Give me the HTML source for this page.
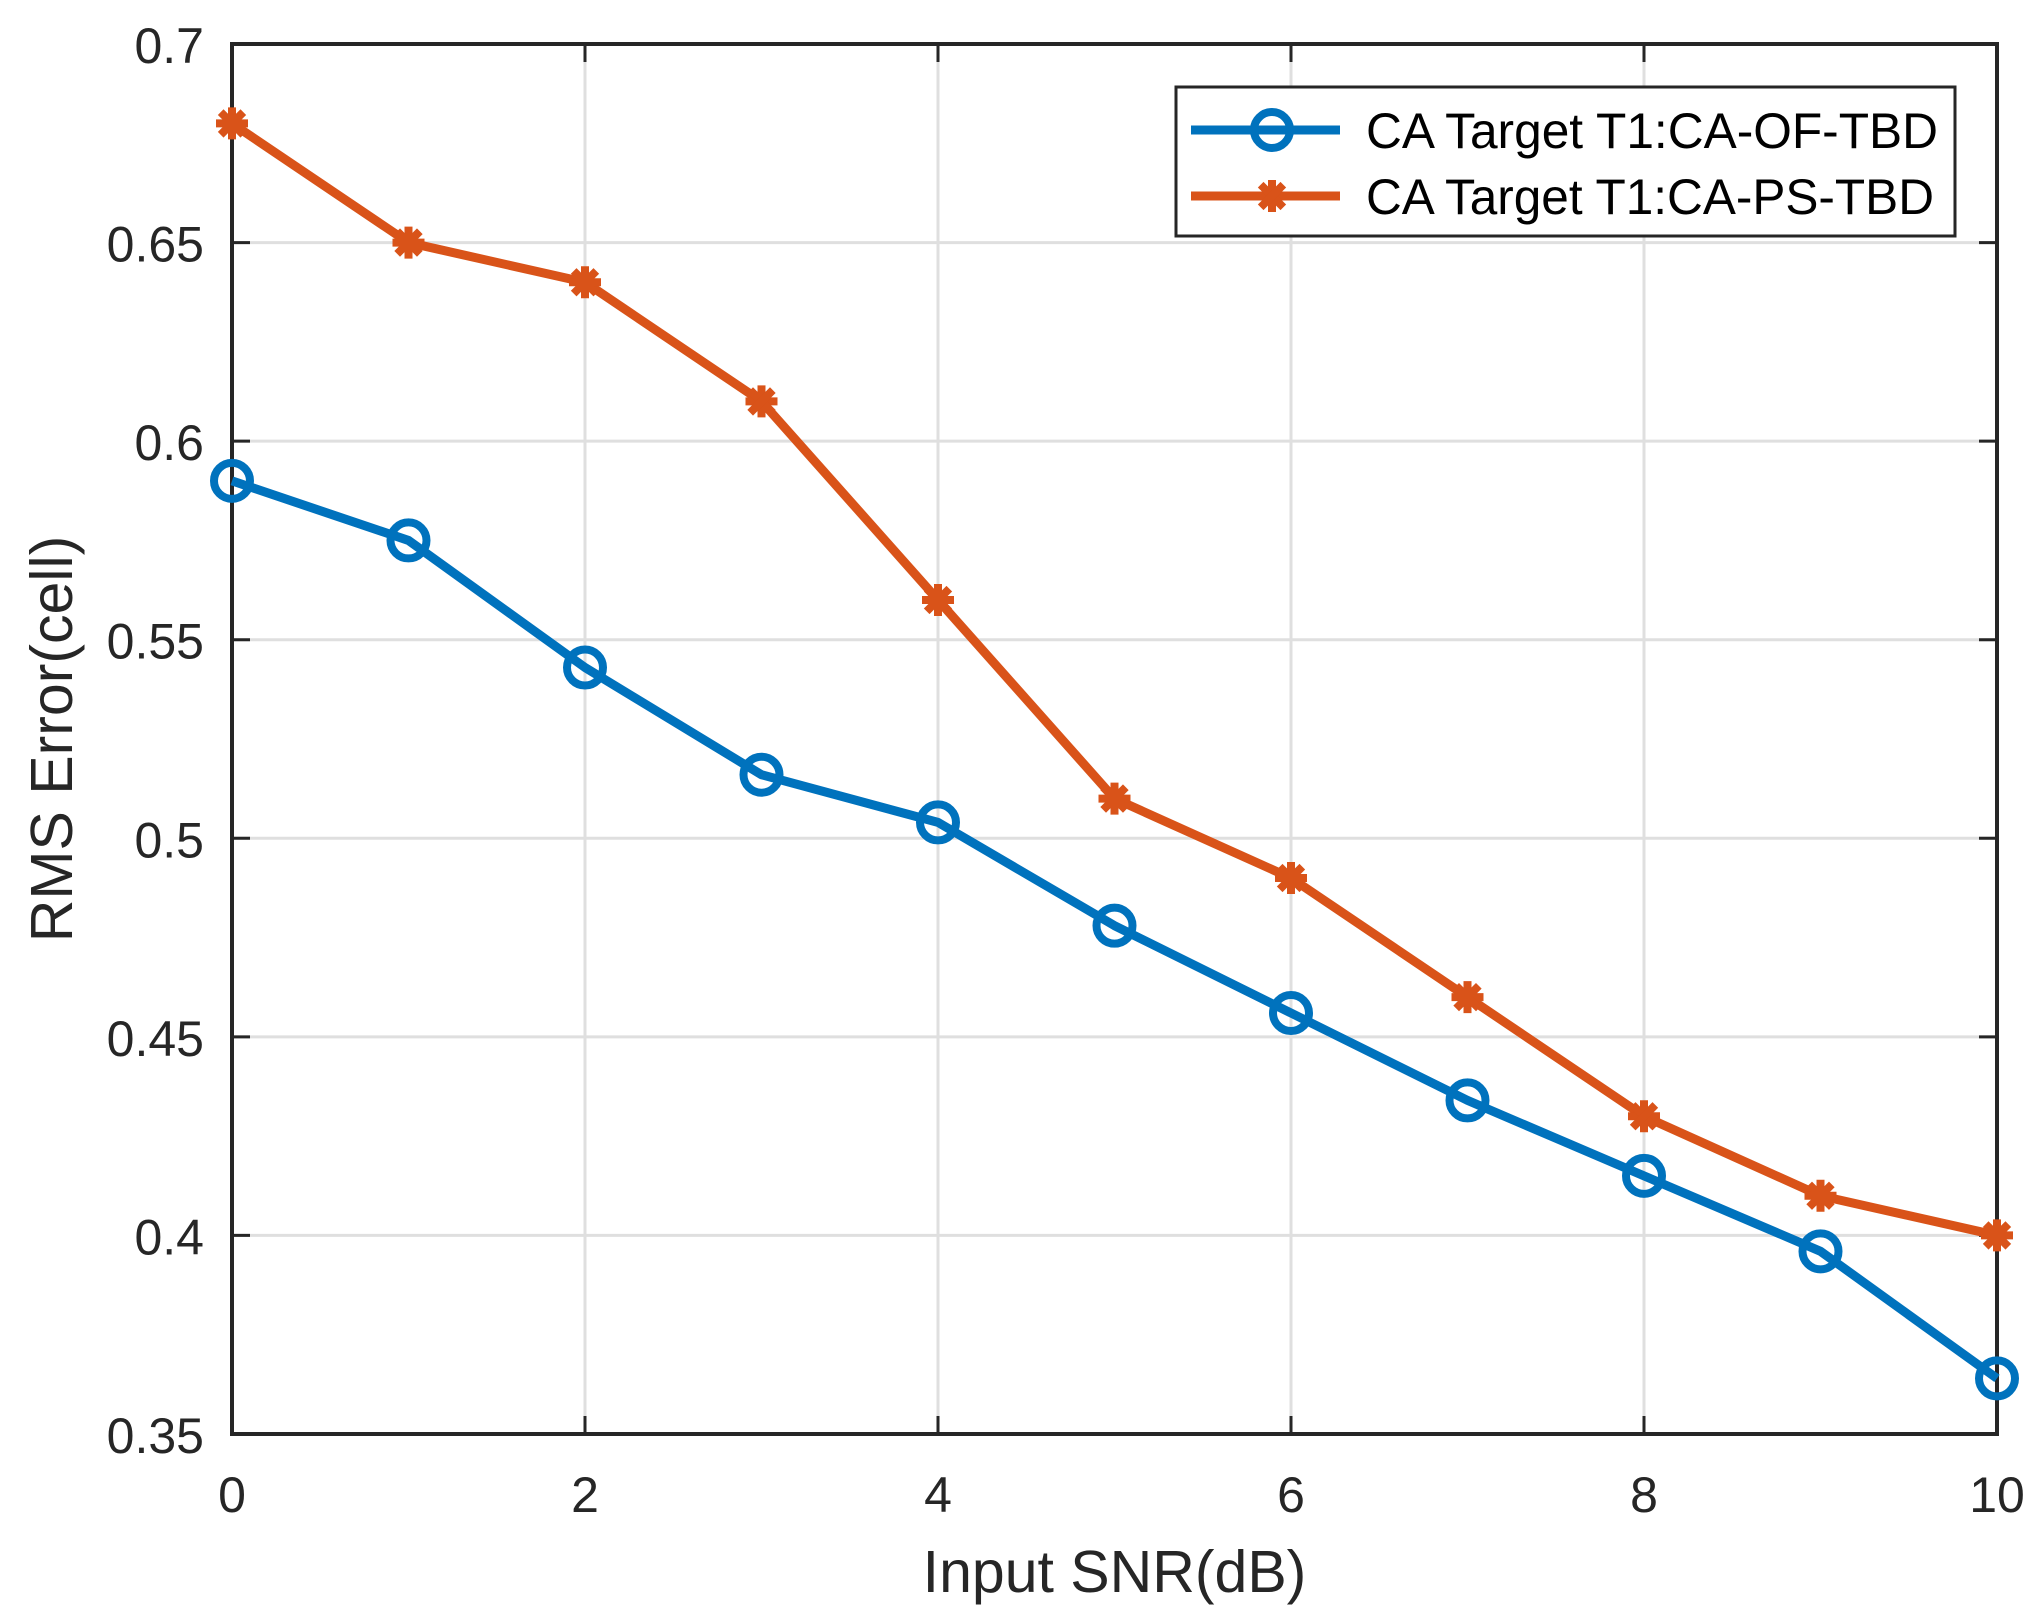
<!DOCTYPE html>
<html><head><meta charset="utf-8"><style>
html,body{margin:0;padding:0;background:#fff;}
svg{display:block;font-family:"Liberation Sans",Arial,sans-serif;}
</style></head><body>
<svg id="s" width="2043" height="1621" viewBox="0 0 2043 1621" xmlns="http://www.w3.org/2000/svg"></svg>
<script>
const L=232,R=1997,T=44,B=1434;
const X=v=>L+(R-L)*v/10, Y=v=>B-(B-T)*(v-0.35)/0.35;
let h='<rect width="2043" height="1621" fill="#fff"/>';
for(let i=1;i<5;i++){h+=`<line x1="${X(i*2)}" y1="${T}" x2="${X(i*2)}" y2="${B}" stroke="#dfdfdf" stroke-width="3"/>`;}
for(let i=1;i<7;i++){const y=Y(0.35+i*0.05);h+=`<line x1="${L}" y1="${y}" x2="${R}" y2="${y}" stroke="#dfdfdf" stroke-width="3"/>`;}
for(let i=0;i<=5;i++){const x=X(i*2);h+=`<line x1="${x}" y1="${B}" x2="${x}" y2="${B-18}" stroke="#262626" stroke-width="3"/><line x1="${x}" y1="${T}" x2="${x}" y2="${T+18}" stroke="#262626" stroke-width="3"/>`;
h+=`<text x="${x}" y="1512" font-size="50" text-anchor="middle" fill="#262626">${i*2}</text>`;}
const yl=['0.35','0.4','0.45','0.5','0.55','0.6','0.65','0.7'];
yl.forEach((t,i)=>{const y=Y(0.35+i*0.05);h+=`<line x1="${L}" y1="${y}" x2="${L+18}" y2="${y}" stroke="#262626" stroke-width="3"/><line x1="${R}" y1="${y}" x2="${R-18}" y2="${y}" stroke="#262626" stroke-width="3"/>`;
h+=`<text x="204" y="${y+19}" font-size="50" text-anchor="end" fill="#262626">${t}</text>`;});
h+=`<rect x="${L}" y="${T}" width="${R-L}" height="${B-T}" fill="none" stroke="#262626" stroke-width="4"/>`;
const b=[0.59,0.575,0.543,0.516,0.504,0.478,0.456,0.434,0.415,0.396,0.364];
const o=[0.68,0.65,0.64,0.61,0.56,0.51,0.49,0.46,0.43,0.41,0.40];
const star=(x,y)=>{let s='';for(let a=0;a<4;a++){const r=a*Math.PI/4,dx=16*Math.cos(r),dy=16*Math.sin(r);s+=`<line x1="${x-dx}" y1="${y-dy}" x2="${x+dx}" y2="${y+dy}" stroke="#d95319" stroke-width="8"/>`;}return s;};
h+=`<polyline points="${o.map((v,i)=>X(i)+','+Y(v)).join(' ')}" fill="none" stroke="#d95319" stroke-width="9" stroke-linejoin="round"/>`;
o.forEach((v,i)=>h+=star(X(i),Y(v)));
h+=`<polyline points="${b.map((v,i)=>X(i)+','+Y(v)).join(' ')}" fill="none" stroke="#0072bd" stroke-width="9" stroke-linejoin="round"/>`;
b.forEach((v,i)=>h+=`<circle cx="${X(i)}" cy="${Y(v)}" r="18" fill="none" stroke="#0072bd" stroke-width="8"/>`);
h+=`<rect x="1176" y="87" width="779" height="149" fill="#fff" stroke="#262626" stroke-width="3"/>`;
h+=`<line x1="1191" y1="130" x2="1340" y2="130" stroke="#0072bd" stroke-width="9"/><circle cx="1272" cy="130" r="18" fill="none" stroke="#0072bd" stroke-width="8"/>`;
h+=`<line x1="1191" y1="196" x2="1340" y2="196" stroke="#d95319" stroke-width="9"/>`+star(1272,196);
h+=`<text x="1366" y="148" font-size="50" textLength="572" lengthAdjust="spacingAndGlyphs" fill="#000">CA Target T1:CA-OF-TBD</text>`;
h+=`<text x="1366" y="214" font-size="50" textLength="568" lengthAdjust="spacingAndGlyphs" fill="#000">CA Target T1:CA-PS-TBD</text>`;
h+=`<text x="${(L+R)/2}" y="1592" font-size="59" text-anchor="middle" fill="#262626">Input SNR(dB)</text>`;
h+=`<text transform="translate(72,${(T+B)/2}) rotate(-90)" font-size="59" text-anchor="middle" fill="#262626">RMS Error(cell)</text>`;
document.getElementById('s').innerHTML=h;
</script>
</body></html>
